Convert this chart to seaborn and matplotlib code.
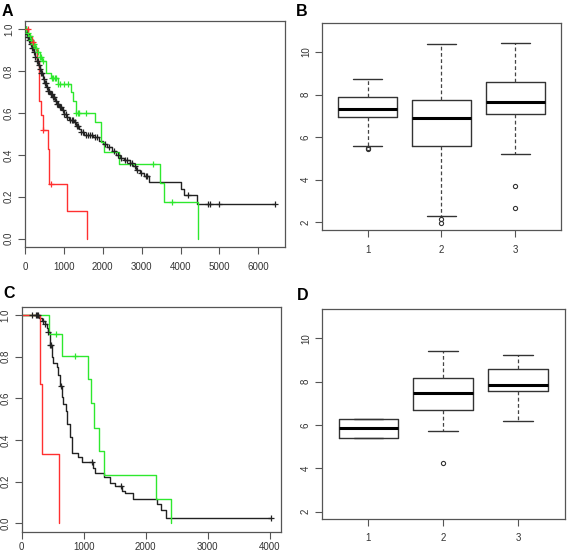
import numpy as np
import pandas as pd
import matplotlib
matplotlib.use("Agg")
import matplotlib.pyplot as plt
import seaborn as sns

# ---------------- data ----------------
# Panel A: Kaplan-Meier step curves (time, survival)
a_black_t = [0, 30, 60, 100, 140, 180, 220, 260, 300, 340, 380, 420, 460, 500, 550, 600, 650, 700, 760,
             820, 880, 940, 1000, 1060, 1120, 1250, 1320, 1380, 1440, 1520, 1750, 1900, 2000, 2100, 2250,
             2350, 2450, 2550, 2700, 2780, 2850, 2950, 3050, 3200, 4000, 4080, 4430, 6430]
a_black_s = [1.0, 0.98, 0.965, 0.95, 0.93, 0.91, 0.89, 0.87, 0.85, 0.83, 0.81, 0.79, 0.765, 0.745, 0.725,
             0.705, 0.69, 0.675, 0.66, 0.645, 0.63, 0.615, 0.595, 0.58, 0.565, 0.555, 0.54, 0.525, 0.51,
             0.495, 0.485, 0.465, 0.45, 0.437, 0.42, 0.40, 0.385, 0.375, 0.36, 0.345, 0.33, 0.315, 0.30,
             0.27, 0.235, 0.21, 0.164, 0.164]
a_black_cens = [20, 40, 70, 90, 110, 130, 160, 190, 210, 240, 270, 300, 330, 360, 390, 420, 450, 480, 510,
                540, 570, 600, 630, 660, 690, 720, 750, 790, 830, 860, 900, 930, 970, 1010, 1050, 1090, 1150,
                1200, 1230, 1280, 1330, 1370, 1450, 1500, 1560, 1620, 1680, 1720, 1800, 1850, 2050, 2150,
                2300, 2380, 2480, 2560, 2620, 2700, 2760, 2820, 2880, 2980, 3100, 3150, 4200, 4700, 4760,
                5000, 6430]

a_green_t = [0, 40, 90, 150, 200, 260, 320, 380, 430, 540, 680, 840, 1186, 1230, 1300, 1790, 1945, 2020,
             2410, 3482, 3570, 4454]
a_green_s = [1.0, 0.985, 0.97, 0.95, 0.93, 0.91, 0.89, 0.87, 0.85, 0.79, 0.77, 0.74, 0.70, 0.66, 0.60,
             0.555, 0.46, 0.416, 0.357, 0.268, 0.177, 0.0]
a_green_cens = [30, 80, 120, 160, 200, 240, 280, 330, 380, 420, 470, 700, 730, 760, 790, 860, 890, 1000,
                1100, 1320, 1360, 1400, 1560, 3293, 3783]

a_red_t = [0, 80, 180, 240, 320, 355, 410, 460, 585, 628, 1083, 1600]
a_red_s = [1.0, 0.97, 0.94, 0.91, 0.85, 0.66, 0.59, 0.52, 0.43, 0.26, 0.13, 0.0]
a_red_cens = [70, 200, 470, 670]

# Panel C
c_black_t = [0, 280, 330, 370, 410, 430, 456, 483, 510, 564, 590, 617, 655, 671, 709, 725, 778, 805, 902,
             977, 1154, 1181, 1331, 1423, 1503, 1621, 1665, 1788, 2174, 2239, 2325, 4020]
c_black_s = [1.0, 0.985, 0.97, 0.955, 0.94, 0.92, 0.855, 0.80, 0.77, 0.75, 0.71, 0.66, 0.606, 0.574, 0.54,
             0.477, 0.413, 0.34, 0.317, 0.296, 0.264, 0.244, 0.223, 0.196, 0.18, 0.156, 0.148, 0.116,
             0.095, 0.063, 0.027, 0.027]
c_black_cens = [170, 230, 250, 270, 340, 380, 430, 460, 475, 634, 1128, 1600, 4020]

c_green_t = [0, 445, 655, 1068, 1111, 1170, 1245, 1331, 2164, 2400]
c_green_s = [1.0, 0.908, 0.805, 0.691, 0.577, 0.458, 0.346, 0.232, 0.116, 0.0]
c_green_cens = [553, 860]

c_red_t = [0, 295, 322, 596]
c_red_s = [1.0, 0.667, 0.333, 0.0]

# Panel B boxplot statistics (groups 1,2,3)
box_groups = [1, 2, 3]
b_whislo = [5.58, 2.30, 5.19]
b_q1 = [6.93, 5.58, 7.09]
b_med = [7.34, 6.92, 7.63]
b_q3 = [7.88, 7.76, 8.57]
b_whishi = [8.75, 10.39, 10.40]
b_fliers = [[5.45, 5.50], [2.18, 1.95], [3.70, 2.69]]

# Panel D boxplot statistics
d_whislo = [5.38, 5.71, 6.18]
d_q1 = [5.38, 6.68, 7.55]
d_med = [5.85, 7.48, 7.85]
d_q3 = [6.29, 8.15, 8.57]
d_whishi = [6.29, 9.42, 9.23]
d_fliers = [[], [4.25], []]

# ---------------- style ----------------
sns.set_style("ticks")
plt.rcParams['font.family'] = ['Liberation Sans', 'DejaVu Sans']

FW, FH = 567, 553
fig = plt.figure(figsize=(FW / 100, FH / 100), dpi=100)

def mkax(l, r, t, b):
    return fig.add_axes([l / FW, 1 - b / FH, (r - l) / FW, (b - t) / FH])

FRAME = '#555555'
TXT = '#333333'

def style(ax, xpad):
    for sp in ax.spines.values():
        sp.set_color(FRAME)
        sp.set_linewidth(0.9)
        sp.set_visible(True)
    ax.tick_params(direction='out', length=5, width=0.8, color=FRAME, labelsize=7, labelcolor=TXT)
    ax.tick_params(axis='x', pad=xpad)
    ax.tick_params(axis='y', pad=3, labelrotation=90)
    for lab in ax.get_yticklabels():
        lab.set_va('center')
    ax.set_xlabel('')
    ax.set_ylabel('')

RED = '#ff3030'
GREEN = '#2ee82e'
BLACK = '#222222'

def step_value(ts, ss, t):
    i = np.searchsorted(np.asarray(ts), t, side='right') - 1
    return ss[i]

def km(ax, ts, ss, cens, color):
    df = pd.DataFrame({'t': ts, 's': ss})
    sns.lineplot(data=df, x='t', y='s', drawstyle='steps-post', estimator=None, sort=False,
                 color=color, linewidth=1.0, ax=ax)
    if cens:
        cy = [step_value(ts, ss, c) for c in cens]
        sns.scatterplot(x=cens, y=cy, marker='+', s=22, color=color, linewidth=0.9, ax=ax, zorder=3)

# Panel A
axA = mkax(25, 285, 21, 247)
km(axA, a_black_t, a_black_s, a_black_cens, BLACK)
km(axA, a_green_t, a_green_s, a_green_cens, GREEN)
km(axA, a_red_t, a_red_s, a_red_cens, RED)
axA.set_xlim(0, max(a_black_t) * 1.04)
axA.set_ylim(-0.04, 1.04)
axA.set_xticks([0, 1000, 2000, 3000, 4000, 5000, 6000])
axA.set_yticks([0, 0.2, 0.4, 0.6, 0.8, 1.0])
axA.set_yticklabels(['0.0', '0.2', '0.4', '0.6', '0.8', '1.0'])
style(axA, 6)

# Panel C
axC = mkax(21.7, 281, 306.7, 531.7)
km(axC, c_black_t, c_black_s, c_black_cens, BLACK)
km(axC, c_green_t, c_green_s, c_green_cens, GREEN)
km(axC, c_red_t, c_red_s, [], RED)
axC.set_xlim(0, max(c_black_t) * 1.04)
axC.set_ylim(-0.04, 1.04)
axC.set_xticks([0, 1000, 2000, 3000, 4000])
axC.set_yticks([0, 0.2, 0.4, 0.6, 0.8, 1.0])
axC.set_yticklabels(['0.0', '0.2', '0.4', '0.6', '0.8', '1.0'])
style(axC, 2.5)

def boxes(ax, whislo, q1, med, q3, whishi, fliers):
    stats = []
    for i in range(len(box_groups)):
        stats.append(dict(whislo=whislo[i], q1=q1[i], med=med[i], q3=q3[i], whishi=whishi[i],
                          fliers=np.array(fliers[i])))
    ax.bxp(stats, positions=box_groups, widths=0.8, showfliers=True,
           boxprops=dict(color='#333333', linewidth=1.0),
           medianprops=dict(color='black', linewidth=2.2),
           whiskerprops=dict(color='#444444', linewidth=0.9, linestyle=(0, (3, 2))),
           capprops=dict(color='#333333', linewidth=1.0),
           flierprops=dict(marker='o', markerfacecolor='none', markeredgecolor='#333333',
                           markersize=3.0, markeredgewidth=0.8))
    ax.set_xlim(0.38, 3.62)
    ax.set_ylim(1.64, 11.36)
    ax.set_xticks(box_groups)
    ax.set_xticklabels([str(g) for g in box_groups])
    ax.set_yticks([2, 4, 6, 8, 10])
    ax.set_yticklabels(['2', '4', '6', '8', '10'])

axB = mkax(322, 561, 23, 230)
boxes(axB, b_whislo, b_q1, b_med, b_q3, b_whishi, b_fliers)
style(axB, 6)

axD = mkax(322, 565, 309, 519.3)
boxes(axD, d_whislo, d_q1, d_med, d_q3, d_whishi, d_fliers)
style(axD, 5)

# panel letters
for lab, x, y in [('A', 2, 15.5), ('B', 296, 15.5), ('C', 3, 298.5), ('D', 297, 300.5)]:
    fig.text(x / FW, 1 - y / FH, lab, fontsize=11.5, fontweight='bold', ha='left', va='baseline',
             color='black')

fig.savefig('out.png', dpi=100)
